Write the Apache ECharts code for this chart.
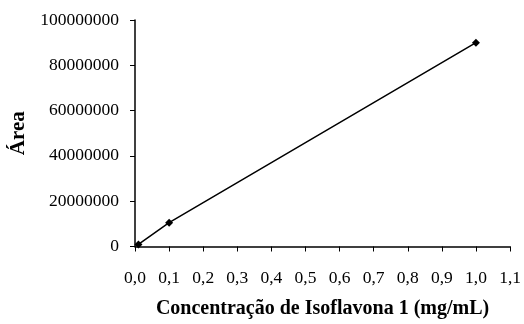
<!DOCTYPE html>
<html>
<head>
<meta charset="utf-8">
<script src="https://cdn.jsdelivr.net/npm/echarts@6/dist/echarts.min.js"></script>
<style>
  html, body { margin: 0; padding: 0; background: #fff; }
  #chart { width: 524px; height: 324px; }
</style>
</head>
<body>
<div id="chart"></div>
<script>
// Calibration curve: concentration (mg/mL) vs peak area
const concentrations = [0.01, 0.1, 1.0];
const areas = [900000, 10500000, 90000000];
const xTicks = [0, 0.1, 0.2, 0.3, 0.4, 0.5, 0.6, 0.7, 0.8, 0.9, 1.0, 1.1];
const yTicks = [0, 20000000, 40000000, 60000000, 80000000, 100000000];
const xTitle = 'Concentração de Isoflavona 1 (mg/mL)';
const yTitle = 'Área';

const serif = '"Liberation Serif", "DejaVu Serif", serif';
const points = concentrations.map((c, i) => [c, areas[i]]);

const chart = echarts.init(document.getElementById('chart'));
chart.setOption({
  animation: false,
  backgroundColor: '#fff',
  grid: { left: 135, right: 12, top: 20, bottom: 77.5 },
  xAxis: {
    type: 'value',
    min: xTicks[0],
    max: xTicks[xTicks.length - 1],
    interval: 0.1,
    splitLine: { show: false },
    axisLine: { lineStyle: { color: '#000', width: 1.5 } },
    axisTick: { show: true, length: 5, lineStyle: { color: '#000', width: 1 } },
    axisLabel: {
      color: '#000', fontFamily: serif, fontSize: 17.5, margin: 23,
      formatter: v => v.toFixed(1).replace('.', ',')
    },
    name: xTitle,
    nameLocation: 'middle',
    nameGap: 52,
    nameTextStyle: { color: '#000', fontFamily: serif, fontSize: 20, fontWeight: 'bold' }
  },
  yAxis: {
    type: 'value',
    min: yTicks[0],
    max: yTicks[yTicks.length - 1],
    interval: 20000000,
    splitLine: { show: false },
    axisLine: { show: true, lineStyle: { color: '#000', width: 1.5 } },
    axisTick: { show: true, length: 5, lineStyle: { color: '#000', width: 1 } },
    axisLabel: {
      color: '#000', fontFamily: serif, fontSize: 17.5, margin: 16,
      formatter: v => String(Math.round(v))
    },
    name: yTitle,
    nameLocation: 'middle',
    nameGap: 105,
    nameTextStyle: { color: '#000', fontFamily: serif, fontSize: 21, fontWeight: 'bold' }
  },
  series: [{
    type: 'line',
    data: points,
    symbol: 'diamond',
    symbolSize: 8,
    itemStyle: { color: '#000' },
    lineStyle: { color: '#000', width: 1.5 }
  }]
});
</script>
</body>
</html>
